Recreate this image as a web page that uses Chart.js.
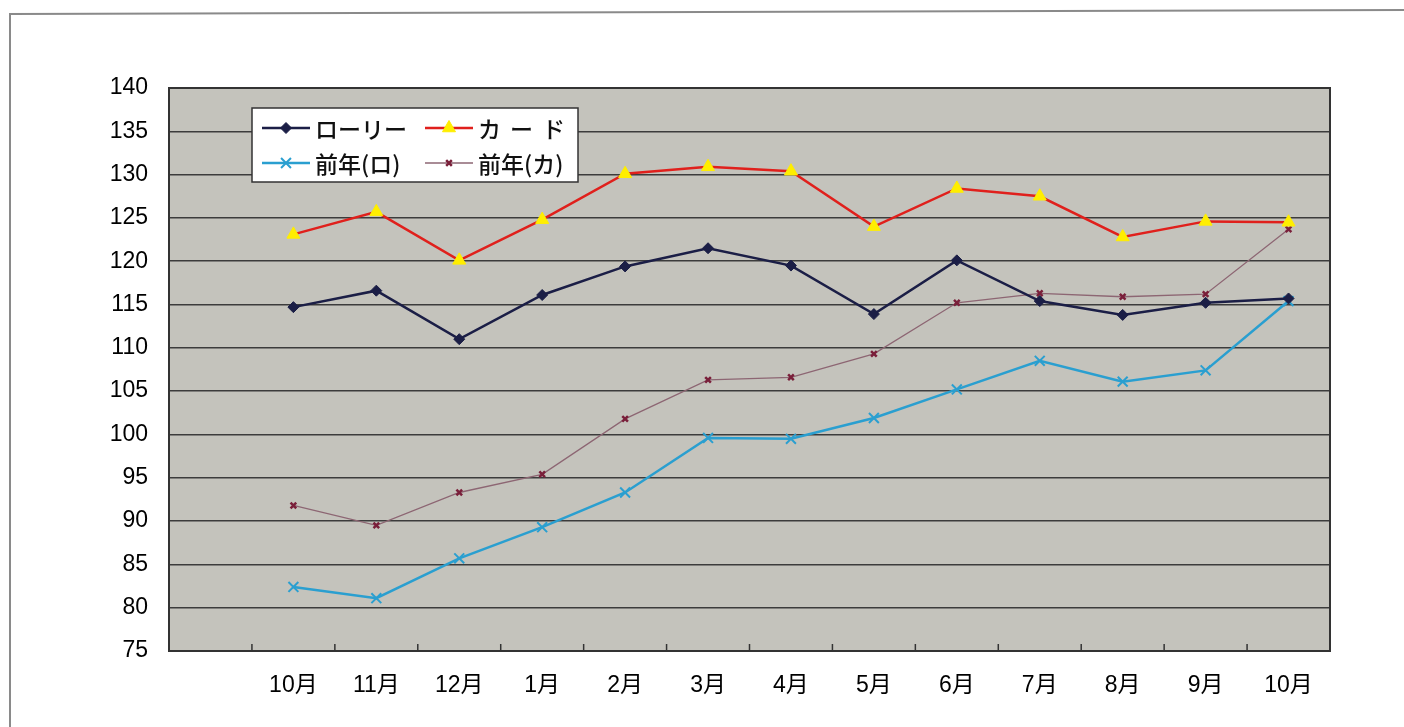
<!DOCTYPE html>
<html>
<head>
<meta charset="utf-8">
<script src="https://cdn.jsdelivr.net/npm/chart.js@4.4.1/dist/chart.umd.min.js"></script>
<style>
  html, body { margin: 0; padding: 0; background: #fff; }
  #wrap { width: 1404px; height: 727px; position: relative; }
</style>
</head>
<body>
<div id="wrap"><canvas id="lineChart"></canvas></div>
<script>
// first slot is empty on the original chart
var months = ['', '10月', '11月', '12月', '1月', '2月', '3月', '4月', '5月', '6月', '7月', '8月', '9月', '10月'];
var rory = [null, 114.7, 116.6, 111.0, 116.1, 119.4, 121.5, 119.5, 113.9, 120.1, 115.4, 113.8, 115.2, 115.7];
var card = [null, 123.1, 125.7, 120.1, 124.8, 130.1, 130.9, 130.4, 124.0, 128.4, 127.5, 122.8, 124.6, 124.5];
var prevRory = [null, 82.4, 81.1, 85.7, 89.3, 93.3, 99.6, 99.5, 101.9, 105.2, 108.5, 106.1, 107.4, 115.4];
var prevCard = [null, 91.8, 89.5, 93.3, 95.4, 101.8, 106.3, 106.6, 109.3, 115.2, 116.3, 115.9, 116.2, 123.7];
var yMin = 75, yMax = 140, yStep = 5;

var fontFamily = "Arial, 'Liberation Sans', 'Noto Sans CJK JP', sans-serif";

// gray plot background, outer frame, plot border, inside tick marks, legend box
var framePlugin = {
    id: 'framePlugin',
    beforeDraw: function (chart) {
        var ctx = chart.ctx, a = chart.chartArea;
        ctx.save();
        ctx.strokeStyle = '#8a8a8a';
        ctx.lineWidth = 2;
        ctx.beginPath();
        ctx.moveTo(10, 727);
        ctx.lineTo(10, 14);
        ctx.lineTo(1404, 10);
        ctx.stroke();
        ctx.fillStyle = '#c4c3bc';
        ctx.fillRect(a.left, a.top, a.right - a.left, a.bottom - a.top);
        ctx.restore();
    },
    afterDatasetsDraw: function (chart) {
        var ctx = chart.ctx, a = chart.chartArea, x = chart.scales.x;
        ctx.save();
        ctx.strokeStyle = '#333';
        ctx.lineWidth = 2;
        ctx.strokeRect(a.left, a.top, a.right - a.left, a.bottom - a.top);
        ctx.lineWidth = 1.5;
        for (var i = 1; i < months.length; i++) {
            var px = (x.getPixelForValue(i - 1) + x.getPixelForValue(i)) / 2;
            ctx.beginPath();
            ctx.moveTo(px, a.bottom);
            ctx.lineTo(px, a.bottom - 7);
            ctx.stroke();
        }

        // legend box
        var bx = a.left + 83, by = a.top + 20, bw = 326, bh = 74;
        ctx.fillStyle = '#fff';
        ctx.fillRect(bx, by, bw, bh);
        ctx.strokeStyle = '#333';
        ctx.lineWidth = 1.5;
        ctx.strokeRect(bx, by, bw, bh);
        ctx.font = "500 23px 'Noto Sans CJK JP', sans-serif";
        ctx.textBaseline = 'middle';
        chart.data.datasets.forEach(function (ds, i) {
            var col = i % 2, row = Math.floor(i / 2);
            var lx = bx + 10 + col * 163, ly = by + 20 + row * 35;
            ctx.strokeStyle = ds.borderColor;
            ctx.lineWidth = ds.borderWidth;
            ctx.beginPath();
            ctx.moveTo(lx, ly);
            ctx.lineTo(lx + 48, ly);
            ctx.stroke();
            ctx.fillStyle = ds.pointBackgroundColor;
            ctx.strokeStyle = ds.pointBorderColor;
            ctx.lineWidth = ds.pointBorderWidth;
            var opts = { pointStyle: ds.pointStyle, radius: ds.pointRadius, borderWidth: ds.pointBorderWidth };
            Chart.helpers.drawPoint(ctx, opts, lx + 24, ly);
            ctx.fillStyle = '#111';
            ctx.letterSpacing = (i === 1) ? '9px' : '0px';
            ctx.fillText(ds.label, lx + 53, ly + 1);
        });
        ctx.restore();
    }
};

var ctx = document.getElementById('lineChart');
var lineChart = new Chart(ctx, {
    type: 'line',
    data: {
        labels: months,
        datasets: [
            {
                label: 'ローリー',
                data: rory,
                borderColor: '#1b1e46',
                borderWidth: 2.5,
                pointStyle: 'rectRot',
                pointRadius: 5.5,
                pointBackgroundColor: '#1b1e46',
                pointBorderColor: '#1b1e46',
                pointBorderWidth: 1
            },
            {
                label: 'カード',
                data: card,
                borderColor: '#e0201c',
                borderWidth: 2.5,
                pointStyle: 'triangle',
                pointRadius: 7.5,
                pointBackgroundColor: '#ffee00',
                pointBorderColor: '#ffee00',
                pointBorderWidth: 1
            },
            {
                label: '前年(ロ)',
                data: prevRory,
                borderColor: '#2a9fd0',
                borderWidth: 2.5,
                pointStyle: 'crossRot',
                pointRadius: 7,
                pointBackgroundColor: '#2a9fd0',
                pointBorderColor: '#2a9fd0',
                pointBorderWidth: 2
            },
            {
                label: '前年(カ)',
                data: prevCard,
                borderColor: '#8d6673',
                borderWidth: 1.3,
                pointStyle: 'crossRot',
                pointRadius: 4,
                pointBackgroundColor: '#7a1f3a',
                pointBorderColor: '#7a1f3a',
                pointBorderWidth: 2.5
            }
        ]
    },
    options: {
        responsive: true,
        maintainAspectRatio: false,
        animation: false,
        layout: { padding: { left: 0, right: 74, top: 88, bottom: 0 } },
        plugins: {
            legend: { display: false },
            tooltip: { enabled: false }
        },
        scales: {
            x: {
                offset: true,
                grid: { display: false, drawTicks: false },
                border: { display: false },
                ticks: {
                    color: '#000',
                    padding: 21,
                    font: { family: fontFamily, size: 23 },
                    maxRotation: 0,
                    autoSkip: false
                },
                afterFit: function (scale) { scale.height = 76; }
            },
            y: {
                min: yMin,
                max: yMax,
                grid: { color: '#3c3c3c', lineWidth: 1.5, drawTicks: false },
                border: { display: false },
                ticks: {
                    stepSize: yStep,
                    color: '#000',
                    padding: 21,
                    font: { family: fontFamily, size: 23 }
                },
                afterFit: function (scale) { scale.width = 169; }
            }
        }
    },
    plugins: [framePlugin]
});
</script>
</body>
</html>
